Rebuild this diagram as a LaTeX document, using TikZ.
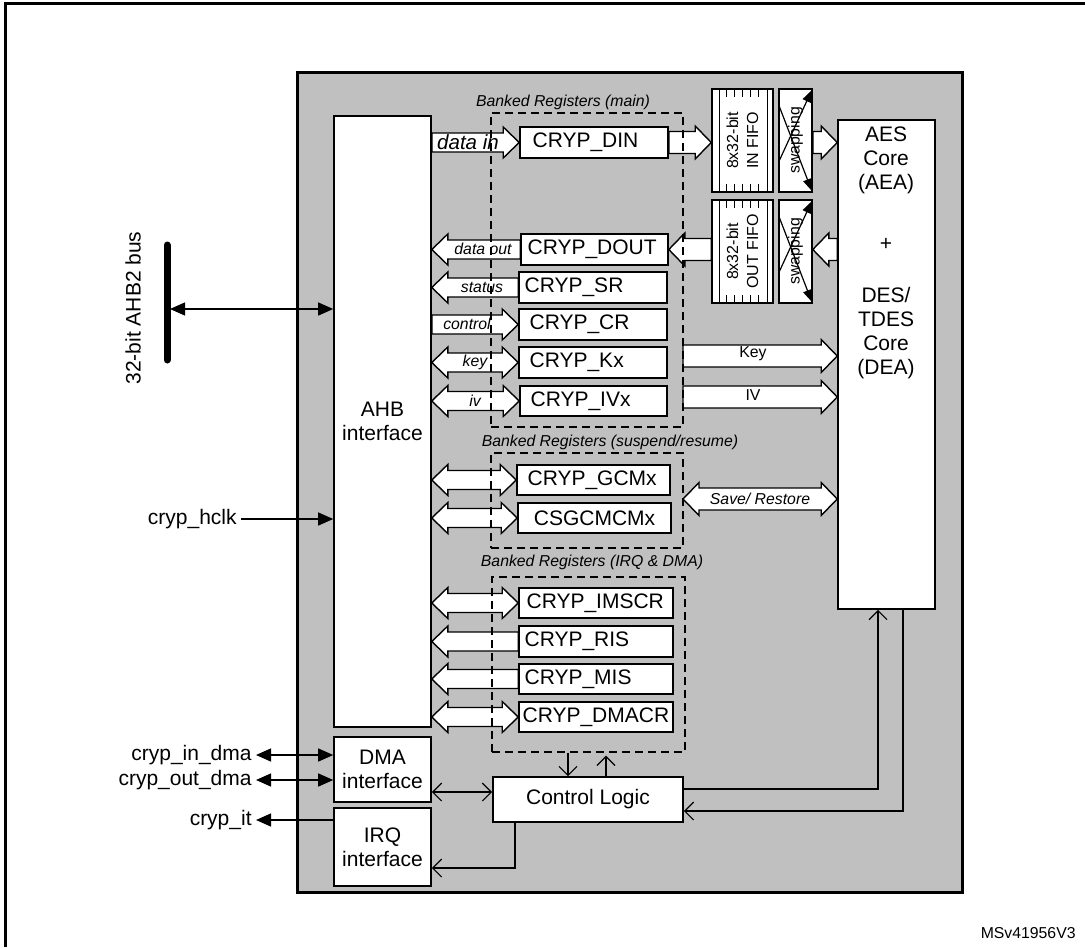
\documentclass[tikz,border=0pt]{standalone}
\usepackage{fontspec}
\setmainfont{Liberation Sans}
\usetikzlibrary{arrows.meta,calc,fit}
\definecolor{bggray}{RGB}{192,192,192}
\newcommand\mkbox[6][regbox]{\node[#1, fit={(#3,#4) (#5,#6)}] (#2) {};}
\newcommand\blkR[4]{\path[blk] let \p1=(#1), \p2=(#2) in (\x1,\y1+#3) -- (\x2-8pt,\y1+#3) -- (\x2-8pt,\y1+#4) -- (\x2,\y1) -- (\x2-8pt,\y1-#4) -- (\x2-8pt,\y1-#3) -- (\x1,\y1-#3) -- cycle;}
\newcommand\blkL[4]{\path[blk] let \p1=(#1), \p2=(#2) in (\x1,\y1+#3) -- (\x2+8pt,\y1+#3) -- (\x2+8pt,\y1+#4) -- (\x2,\y1) -- (\x2+8pt,\y1-#4) -- (\x2+8pt,\y1-#3) -- (\x1,\y1-#3) -- cycle;}
\newcommand\blkD[4]{\path[blk] let \p1=(#1), \p2=(#2) in (\x1,\y1) -- (\x1+8pt,\y1+#4) -- (\x1+8pt,\y1+#3) -- (\x2-8pt,\y1+#3) -- (\x2-8pt,\y1+#4) -- (\x2,\y1) -- (\x2-8pt,\y1-#4) -- (\x2-8pt,\y1-#3) -- (\x1+8pt,\y1-#3) -- (\x1+8pt,\y1-#4) -- cycle;}
\newcommand\fifolines[1]{%
  \draw[conn] ($(#1.north west)+(8,0)$) -- ($(#1.south west)+(8,0)$)
              ($(#1.north east)+(-6,0)$) -- ($(#1.south east)+(-6,0)$);
  \foreach \k in {15,23,31,39,47}{\draw[conn] ($(#1.north west)+(\k,0)$) -- ++(0,9) ($(#1.south west)+(\k,0)$) -- ++(0,-9);}}
\newcommand\swaplines[1]{%
  \draw[conn,-{Triangle[length=6pt,width=4.5pt]}] ($(#1.south west)+(1,-32)$) -- ($(#1.north east)+(-1,2)$);
  \draw[conn,-{Triangle[length=6pt,width=4.5pt]}] ($(#1.north west)+(1,18)$) -- ($(#1.south east)+(-1,-2)$);}
\tikzset{
  regbox/.style={draw=black, fill=white, line width=0.8pt, inner sep=0pt},
  graybox/.style={draw=black, fill=bggray, line width=1.5pt, inner sep=0pt},
  dashbox/.style={draw=black, line width=0.7pt, dash pattern=on 4pt off 2.5pt, inner sep=0pt},
  blk/.style={draw=black, fill=white, line width=0.7pt, line join=miter},
  conn/.style={draw=black, line width=0.6pt},
  maintxt/.style={font=\fontsize{10.5}{12}\selectfont, inner sep=1pt},
  bigital/.style={font=\fontsize{10.25}{12}\selectfont\itshape, inner sep=0pt},
  smalllab/.style={font=\fontsize{7.9}{9.5}\selectfont\itshape, inner sep=0pt},
  smallup/.style={font=\fontsize{7.9}{10}\selectfont, inner sep=0pt},
  fhead/.tip={Triangle[length=7.5pt,width=6.5pt]},
  ohead/.tip={Straight Barb[length=4.5pt,width=9pt]},
}
\begin{document}
\begin{tikzpicture}[x=0.5pt,y=-0.5pt]
\useasboundingbox (0,0) rectangle (1085,947);
% outer frame
\draw[line width=1.5pt] (5,947) -- (5,4) -- (1085,4);
% main block
\mkbox[graybox]{G}{297}{73}{962}{892}
% boxes
\mkbox{AHB}{334}{116}{431}{727}
\mkbox{DMA}{334}{737}{431}{802}
\mkbox{IRQ}{334}{808}{431}{886}
\mkbox{CL}{493}{777}{683}{822}
\mkbox{AES}{838}{120}{935}{609}
\mkbox{DIN}{520}{127}{668}{158}
\mkbox{DOUT}{521}{234}{668}{265}
\mkbox{SR}{519}{272}{667}{303}
\mkbox{CR}{519}{309}{667}{340}
\mkbox{KX}{519}{347}{667}{378}
\mkbox{IVX}{520}{386}{667}{416}
\mkbox{GCM}{517}{465}{670}{495}
\mkbox{CSG}{518}{503}{671}{533}
\mkbox{IMSCR}{519}{588}{673}{618}
\mkbox{RIS}{519}{626}{673}{657}
\mkbox{MIS}{519}{664}{673}{694}
\mkbox{DMACR}{519}{702}{673}{732}
\mkbox{INF}{712}{89}{773}{192}
\mkbox{OUTF}{712}{200}{773}{303}
\mkbox{SWIN}{779}{89}{812}{192}
\mkbox{SWOUT}{779}{200}{812}{303}
\fifolines{INF}
\fifolines{OUTF}
% block arrows, left side
\blkR{AHB.east |- DIN.west}{DIN.west}{4.75pt}{7.75pt}
\blkL{DOUT.west}{AHB.east |- DOUT.west}{4.75pt}{7.75pt}
\blkL{SR.west}{AHB.east |- SR.west}{4.75pt}{7.75pt}
\blkR{AHB.east |- CR.west}{CR.west}{4.75pt}{7.75pt}
\blkD{AHB.east |- KX.west}{KX.west}{4.75pt}{7.75pt}
\blkD{AHB.east |- IVX.west}{IVX.west}{4.75pt}{7.75pt}
\blkD{AHB.east |- GCM.west}{GCM.west}{4.75pt}{7.75pt}
\blkD{AHB.east |- CSG.west}{CSG.west}{4.75pt}{7.75pt}
\blkD{AHB.east |- IMSCR.west}{IMSCR.west}{4.75pt}{7.75pt}
\blkL{RIS.west}{AHB.east |- RIS.west}{4.75pt}{7.75pt}
\blkL{MIS.west}{AHB.east |- MIS.west}{4.75pt}{7.75pt}
\blkD{AHB.east |- DMACR.west}{DMACR.west}{4.75pt}{7.75pt}
% block arrows, right side
\blkR{DIN.east}{INF.west |- DIN.east}{5.5pt}{8.25pt}
\blkL{OUTF.west |- DOUT.east}{DOUT.east}{5.5pt}{8.25pt}
\blkR{SWIN.east |- DIN.east}{AES.west |- DIN.east}{5.5pt}{8.25pt}
\blkL{AES.west |- DOUT.east}{SWOUT.east |- DOUT.east}{5.5pt}{8.25pt}
\coordinate (keyS) at (683,356);
\coordinate (ivS) at (683,397);
\coordinate (srS) at (683,499);
\blkR{keyS}{AES.west |- keyS}{5.5pt}{8.25pt}
\blkR{ivS}{AES.west |- ivS}{5.5pt}{8.25pt}
\blkD{srS}{AES.west |- srS}{5.5pt}{8.25pt}
\swaplines{SWIN}
\swaplines{SWOUT}
% dashed banks
\node[dashbox, fit={(491,113) (683,427)}] (DM) {};
\node[dashbox, fit={(491,453) (683,548)}] (DS) {};
\node[dashbox, fit={(492,577) (685,752)}] (DQ) {};
\node[smalllab] (lDM) at (563,102) {Banked Registers (main)};
\node[smalllab] (lDS) at (610,442) {Banked Registers (suspend/resume)};
\node[smalllab] (lDQ) at (592,562) {Banked Registers (IRQ \& DMA)};
% texts in boxes
\node[maintxt, align=center] (tAHB) at (AHB.center) {AHB\\interface};
\node[maintxt, align=center] (tDMA) at (DMA.center) {DMA\\interface};
\node[maintxt, align=center] (tIRQ) at (IRQ.center) {IRQ\\interface};
\node[maintxt] (tCL) at (CL.center) {Control Logic};
\node[maintxt, align=center] (tAES1) at (886,160) {AES\\Core\\(AEA)};
\node[maintxt] (tAES2) at (886,244) {+};
\node[maintxt, align=center] (tAES3) at (886,333) {DES/\\TDES\\Core\\(DEA)};
\node[maintxt, anchor=west] (tDIN) at ($(DIN.west)+(11,0)$) {CRYP\_DIN};
\node[maintxt, anchor=west] (tDOUT) at ($(DOUT.west)+(5,0)$) {CRYP\_DOUT};
\node[maintxt, anchor=west] (tSR) at ($(SR.west)+(4,0)$) {CRYP\_SR};
\node[maintxt, anchor=west] (tCR) at ($(CR.west)+(9,0)$) {CRYP\_CR};
\node[maintxt, anchor=west] (tKX) at ($(KX.west)+(9,0)$) {CRYP\_Kx};
\node[maintxt, anchor=west] (tIVX) at ($(IVX.west)+(9,0)$) {CRYP\_IVx};
\node[maintxt, anchor=west] (tGCM) at ($(GCM.west)+(9,0)$) {CRYP\_GCMx};
\node[maintxt] (tCSG) at (CSG.center) {CSGCMCMx};
\node[maintxt, anchor=west] (tIMSCR) at ($(IMSCR.west)+(6,0)$) {CRYP\_IMSCR};
\node[maintxt, anchor=west] (tRIS) at ($(RIS.west)+(4,0)$) {CRYP\_RIS};
\node[maintxt, anchor=west] (tMIS) at ($(MIS.west)+(4,0)$) {CRYP\_MIS};
\node[maintxt, anchor=west] (tDMACR) at ($(DMACR.west)+(2,0)$) {CRYP\_DMACR};
\node[smallup, rotate=90, align=center, font=\fontsize{8}{10}\selectfont] (tINF) at (INF.center) {8x32-bit\\IN FIFO};
\node[smallup, rotate=90, align=center, font=\fontsize{8}{10}\selectfont] (tOUTF) at (OUTF.center) {8x32-bit\\OUT FIFO};
\node[smallup, rotate=90] (tSWIN) at (SWIN.center) {swapping};
\node[smallup, rotate=90] (tSWOUT) at (SWOUT.center) {swapping};
% arrow labels
\node[bigital] (ldin) at (468,142) {data in};
\node[smalllab] (ldout) at (483,249) {data out};
\node[smalllab] (lsr) at (482,287) {status};
\node[smalllab] (lcr) at (467,324) {control};
\node[smalllab] (lkx) at (475,362) {key};
\node[smalllab] (livx) at (475,401) {iv};
\node[smallup] (lkey) at (753,354) {Key};
\node[smallup] (liv) at (753,395) {IV};
\node[smalllab] (lsave) at (760,499) {Save/ Restore};
% bus
\coordinate (busT) at (167,245);
\coordinate (busB) at (167,360);
\coordinate (busP) at (170,309);
\draw[line width=3.5pt, line cap=round] (busT) -- (busB);
\draw[conn, {fhead}-{fhead}] (busP) -- (AHB.west |- busP);
\node[maintxt, rotate=90] (lbus) at (133,308) {32-bit AHB2 bus};
% external signals
\node[maintxt, anchor=east, inner sep=2pt] (hclk) at (241,519) {cryp\_hclk};
\draw[conn, -{fhead}] (hclk.east) -- (AHB.west |- hclk.east);
\node[maintxt, anchor=east, inner sep=2pt] (indma) at (256,755) {cryp\_in\_dma};
\draw[conn, {fhead}-{fhead}] (indma.east) -- (DMA.west |- indma.east);
\node[maintxt, anchor=east, inner sep=2pt] (outdma) at (256,780) {cryp\_out\_dma};
\draw[conn, {fhead}-{fhead}] (outdma.east) -- (DMA.west |- outdma.east);
\node[maintxt, anchor=east, inner sep=2pt] (cit) at (256,820) {cryp\_it};
\draw[conn, -{fhead}] (IRQ.west |- cit.east) -- (cit.east);
% control logic connections
\coordinate (cdn) at (568,0);
\coordinate (cup) at (606,0);
\draw[conn, -{ohead}] (DQ.south -| cdn) -- (CL.north -| cdn);
\draw[conn, -{ohead}] (CL.north -| cup) -- ($(DQ.south -| cup)+(0,3)$);
\coordinate (ca) at (878,789);
\coordinate (cb) at (903,811);
\coordinate (cc) at (515,868);
\coordinate (cd) at (0,792);
\draw[conn, -{ohead}] (CL.east |- ca) -| (AES.south -| ca);
\draw[conn, -{ohead}] (AES.south -| cb) |- (CL.east |- cb);
\draw[conn, -{ohead}] (CL.south -| cc) |- (IRQ.east |- cc);
\draw[conn, {ohead}-{ohead}] (DMA.east |- cd) -- (CL.west |- cd);
% figure id
\node[smallup, anchor=east] (msv) at (1076,933) {MSv41956V3};
\end{tikzpicture}
\end{document}
